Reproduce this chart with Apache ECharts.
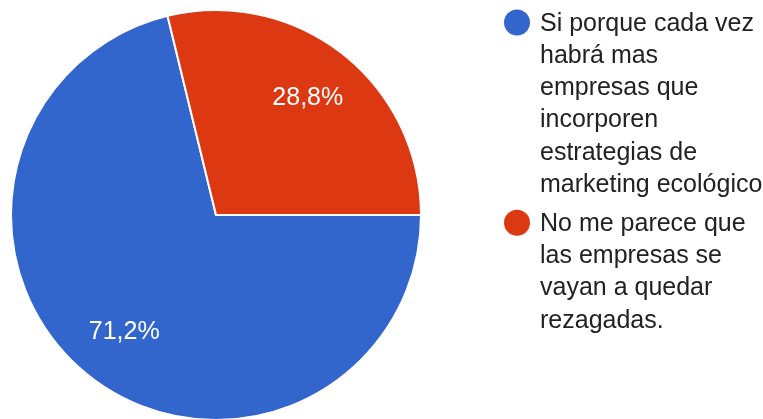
<!DOCTYPE html>
<html>
<head>
<meta charset="utf-8">
<script src="https://cdn.jsdelivr.net/npm/echarts@6/dist/echarts.min.js"></script>
<style>
  html, body { margin: 0; padding: 0; background: #ffffff; }
  #chart { width: 763px; height: 419px; }
</style>
</head>
<body>
<div id="chart"></div>
<script>
// Answer options and their share of responses (%)
const categories = [
  'Si porque cada vez habrá mas empresas que incorporen estrategias de marketing ecológico',
  'No me parece que las empresas se vayan a quedar rezagadas.'
];
const shares = [71.2, 28.8];
const colors = ['#3366cc', '#dc3912'];
// Legend text, wrapped the way it is shown
const legendLines = [
  ['Si porque cada vez', 'habrá mas', 'empresas que', 'incorporen', 'estrategias de', 'marketing ecológico'],
  ['No me parece que', 'las empresas se', 'vayan a quedar', 'rezagadas.']
];

const fontFamily = '"Liberation Sans", Arial, Helvetica, sans-serif';
const pieCenter = [216, 215];
const pieRadius = 205;

const pieData = categories.map((name, i) => ({
  name: name,
  value: shares[i],
  itemStyle: { color: colors[i] }
}));

const fmtPct = (v) => v.toFixed(1).replace('.', ',') + '%';

// Legend: a dot plus wrapped lines per option
const lineHeight = 32.2;
const legendGraphics = [];
let rowY = 24;
legendLines.forEach((lines, i) => {
  legendGraphics.push({
    type: 'circle',
    shape: { cx: 517, cy: rowY - 1.5, r: 13 },
    style: { fill: colors[i] },
    silent: true
  });
  lines.forEach((txt, j) => {
    legendGraphics.push({
      type: 'text',
      x: 540,
      y: rowY + j * lineHeight,
      style: {
        text: txt,
        fill: '#222222',
        font: '25px ' + fontFamily,
        verticalAlign: 'middle'
      },
      silent: true
    });
  });
  rowY += lines.length * lineHeight + 7;
});

const chart = echarts.init(document.getElementById('chart'), null, { renderer: 'canvas' });
chart.setOption({
  animation: false,
  backgroundColor: '#ffffff',
  tooltip: { show: false },
  series: [
    {
      type: 'pie',
      center: pieCenter,
      radius: [0, pieRadius],
      startAngle: 0,
      clockwise: true,
      label: { show: false },
      labelLine: { show: false },
      itemStyle: { borderColor: '#ffffff', borderWidth: 2 },
      emphasis: { disabled: true },
      data: pieData
    },
    {
      // transparent twin ring that carries the percentage labels further out
      type: 'pie',
      center: pieCenter,
      radius: [0, pieRadius * 1.42],
      startAngle: 0,
      clockwise: true,
      silent: true,
      itemStyle: { color: 'rgba(0,0,0,0)' },
      emphasis: { disabled: true },
      label: {
        show: true,
        position: 'inside',
        color: '#ffffff',
        fontFamily: fontFamily,
        fontSize: 25,
        padding: [6, 0, 0, 0],
        formatter: (p) => fmtPct(p.value)
      },
      labelLine: { show: false },
      data: pieData.map(d => ({ name: d.name, value: d.value }))
    }
  ],
  graphic: legendGraphics
});
</script>
</body>
</html>
